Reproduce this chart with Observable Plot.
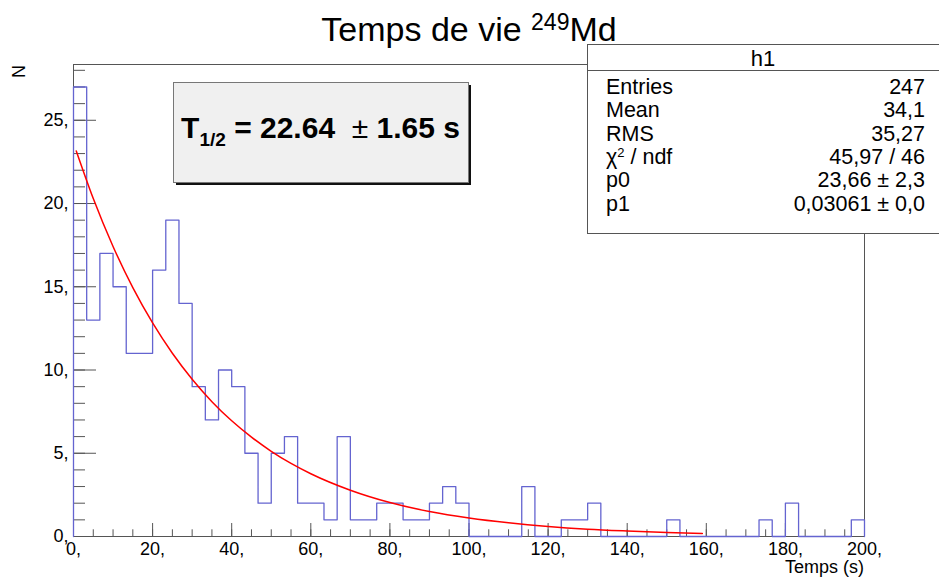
<!DOCTYPE html>
<html><head><meta charset="utf-8">
<script src="https://cdn.jsdelivr.net/npm/d3@7"></script>
<script src="https://cdn.jsdelivr.net/npm/@observablehq/plot@0.6"></script>
<style>body{margin:0;background:#fff} svg{display:block}</style>
</head><body><div id="chart"></div>
<script>
// ---- data ----
const binLow = 0, binHigh = 200, nBins = 60;
const counts = [27,13,17,15,11,11,16,19,14,9,7,10,9,5,2,5,6,2,2,1,6,1,1,2,2,1,1,2,3,2,
                0,0,0,0,3,0,0,1,1,2,0,0,0,0,0,1,0,0,0,0,0,0,1,0,2,0,0,0,0,1];
const fitX = [0.7,5,10,15,20,25,30,35,40,45,50,55,60,70,80,90,100,110,120,130,140,150,159];
const fitY = [23.16,20.30,17.42,14.95,12.83,11.01,9.45,8.10,6.95,5.97,5.12,4.39,3.77,2.78,2.04,1.50,1.11,0.82,0.60,0.44,0.33,0.24,0.18];
const xMajor = [0,20,40,60,80,100,120,140,160,180,200];
const xMinor = [0,5,10,15,20,25,30,35,40,45,50,55,60,65,70,75,80,85,90,95,100,105,110,115,120,125,130,135,140,145,150,155,160,165,170,175,180,185,190,195,200];
const yMajor = [0,5,10,15,20,25];
const yMinor = [0,1,2,3,4,5,6,7,8,9,10,11,12,13,14,15,16,17,18,19,20,21,22,23,24,25,26,27,28];
const statsLabels = ["Entries","Mean","RMS","χ2 / ndf","p0","p1"];
const statsValues = ["247","34,1","35,27","45,97 / 46","23,66 ± 2,3","0,03061 ± 0,0"];

// ---- build tables ----
const bw = (binHigh - binLow) / nBins;
const histPts = [{x: binLow, y: 0}]
  .concat(counts.map((c, i) => ({x: binLow + i * bw, y: c})))
  .concat([{x: binHigh, y: counts[nBins - 1]}, {x: binHigh, y: 0}]);
const fit = fitX.map((x, i) => ({x, y: fitY[i]}));

const FONT = "Liberation Sans, Arial, Helvetica, sans-serif";
const axisCol = "#555";

const plot = Plot.plot({
  width: 939, height: 578,
  marginLeft: 73, marginRight: 75, marginTop: 64, marginBottom: 42,
  style: {fontFamily: FONT, fontSize: "18px", color: "#000", background: "white", overflow: "visible"},
  x: {domain: [binLow, binHigh]},
  y: {domain: [0, 28.35]},
  marks: [
    Plot.axisX(xMinor, {tickSize: -6.7, fill: "none", stroke: axisCol, label: null}),
    Plot.axisX(xMajor, {tickSize: -13, tickPadding: 19, tickFormat: d => d + ",", stroke: axisCol, fill: "black", label: null}),
    Plot.axisY(yMinor, {tickSize: -12, fill: "none", stroke: axisCol, label: null}),
    Plot.axisY(yMajor, {tickSize: -23, tickPadding: 28, tickFormat: d => d + ",", stroke: axisCol, fill: "black", label: null}),
    Plot.frame({stroke: axisCol}),
    Plot.line(histPts, {x: "x", y: "y", curve: "step-after", stroke: "#6464d0", strokeWidth: 1.3}),
    Plot.line(fit, {x: "x", y: "y", curve: "monotone-x", stroke: "#ff0000", strokeWidth: 1.5})
  ]
});
document.getElementById("chart").appendChild(plot);

// ---- annotations ----
const svg = d3.select(plot);
const g = svg.append("g").attr("font-family", FONT).attr("fill", "black").attr("text-anchor", "start");

// title
const t = g.append("text").attr("x", 469).attr("y", 41).attr("text-anchor", "middle").attr("font-size", 34);
t.append("tspan").text("Temps de vie ");
t.append("tspan").attr("font-size", 23).attr("dy", -11).text("249");
t.append("tspan").attr("dy", 11).text("Md");

// axis titles
g.append("text").attr("transform", "translate(25,65) rotate(-90)").attr("text-anchor", "end")
  .attr("font-size", 18).text("N");
g.append("text").attr("x", 864).attr("y", 573).attr("text-anchor", "end").attr("font-size", 18).text("Temps (s)");

// T1/2 box
g.append("rect").attr("x", 176).attr("y", 85).attr("width", 295).attr("height", 100).attr("fill", "#111");
g.append("rect").attr("x", 173.5).attr("y", 82.5).attr("width", 295).attr("height", 100)
  .attr("fill", "#f0f0f0").attr("stroke", "#777");
const tt = g.append("text").attr("x", 320.5).attr("y", 138).attr("text-anchor", "middle")
  .attr("font-size", 30).attr("font-weight", "bold").attr("xml:space", "preserve");
tt.append("tspan").text("T");
tt.append("tspan").attr("font-size", 19).attr("dy", 8).text("1/2");
tt.append("tspan").attr("dy", -8).text(" = 22.64  ");
tt.append("tspan").attr("font-weight", "normal").text("±");
tt.append("tspan").text(" 1.65 s");

// stats box
g.append("rect").attr("x", 587.5).attr("y", 44.5).attr("width", 352).attr("height", 189)
  .attr("fill", "white").attr("stroke", "#555");
g.append("line").attr("x1", 587.5).attr("x2", 939).attr("y1", 70.5).attr("y2", 70.5).attr("stroke", "#555");
g.append("text").attr("x", 763).attr("y", 66).attr("text-anchor", "middle").attr("font-size", 22).text("h1");
statsLabels.forEach((lab, i) => {
  const y = 94 + i * 23.35;
  const lt = g.append("text").attr("x", 606).attr("y", y).attr("text-anchor", "start").attr("font-size", 21.5);
  if (lab.startsWith("χ2")) {
    lt.append("tspan").text("χ");
    lt.append("tspan").attr("font-size", 13).attr("dy", -7).text("2");
    lt.append("tspan").attr("dy", 7).text(" / ndf");
  } else lt.text(lab);
  g.append("text").attr("x", 925).attr("y", y).attr("text-anchor", "end").attr("font-size", 21.5).text(statsValues[i]);
});
</script>
</body></html>
